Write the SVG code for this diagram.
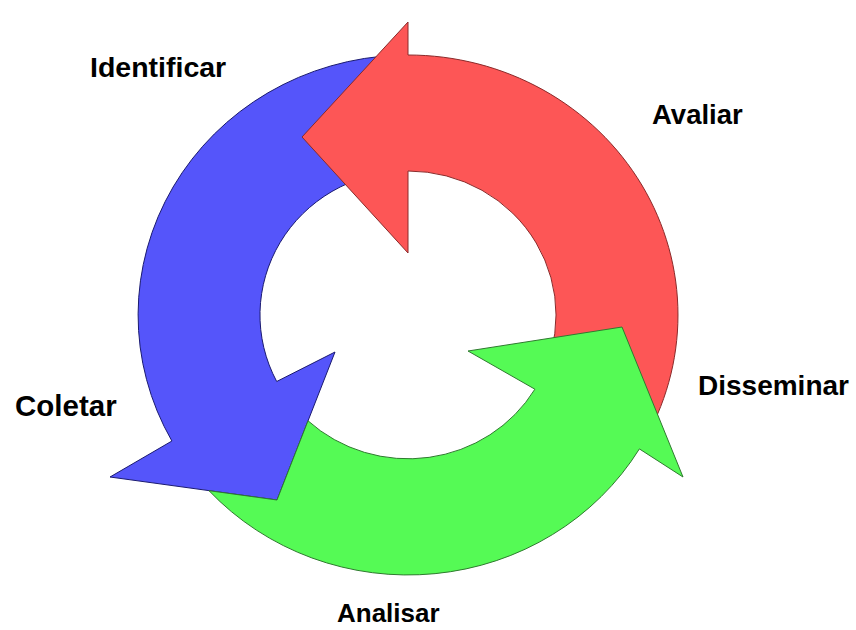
<svg xmlns="http://www.w3.org/2000/svg" width="856" height="630" viewBox="0 0 856 630">
<style>
  .lbl { font-family: "Liberation Sans", Arial, sans-serif; font-weight: bold; font-size: 28px; fill: #000; }
  .blue { fill: #5555fa; stroke: #1a1a70; stroke-width: 1; stroke-linejoin: miter; }
  .red { fill: #fd5656; stroke: #8a2a2a; stroke-width: 1; stroke-linejoin: miter; }
  .green { fill: #55fa55; stroke: #2f7a2f; stroke-width: 1; stroke-linejoin: miter; }
</style>
<rect width="856" height="630" fill="#ffffff"/>
<g id="connectors">
  <g id="arrow-blue">
    <path class="blue" d="M 398.6 55.2 A 270 260 0 0 0 171.9 441.0 L 110 477 L 277 500 L 335 352 L 276.7 381.5 A 148 144 0 0 1 402.8 171.1 Z"/>
  </g>
  <g id="arrow-red">
    <path class="red" d="M 641.8 445 A 270 260 0 0 0 408 55 L 408 22 L 302 137 L 408 253 L 408 171 A 148 144 0 0 1 536.2 387 Z"/>
  </g>
  <g id="arrow-green">
    <path class="green" d="M 209 490.7 A 270 260 0 0 0 639.4 448.9 L 683 477 L 622 327 L 468 351 L 534.9 389.2 A 148 144 0 0 1 308 420.8 L 277 500 Z"/>
  </g>
</g>
<g id="node-identificar"><text class="lbl" x="90" y="77" style="font-size:28.5px">Identificar</text></g>
<g id="node-avaliar"><text class="lbl" x="652" y="124" style="font-size:27.5px">Avaliar</text></g>
<g id="node-disseminar"><text class="lbl" x="698" y="395">Disseminar</text></g>
<g id="node-coletar"><text class="lbl" x="15" y="416" style="font-size:29.5px">Coletar</text></g>
<g id="node-analisar"><text class="lbl" x="337" y="622" style="font-size:26px">Analisar</text></g>
</svg>
